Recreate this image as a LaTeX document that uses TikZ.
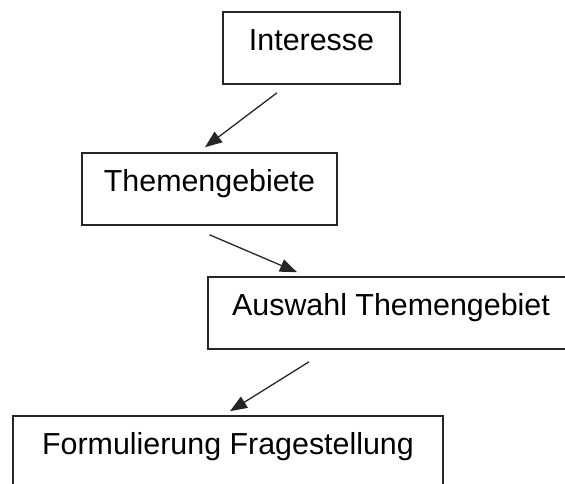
\documentclass[tikz,border=0pt]{standalone}
\usepackage{fontspec}
\setmainfont{Liberation Sans}
\usepackage{tikz}
\usetikzlibrary{arrows.meta}

\begin{document}
\begin{tikzpicture}[
    x=1pt, y=1pt,
    box/.style={draw=black!85, line width=1.6pt, rectangle, inner sep=0pt, anchor=base,
        text height=39pt, text depth=33pt, font=\fontsize{30.4}{36}\selectfont},
    arrow/.style={-{Triangle[length=17pt, width=13pt]}, line width=1.3pt, draw=black!85}
]
\useasboundingbox (0,0) rectangle (565,484);

% Steps
\node[box, minimum width=177pt] (interesse) at (311.5,433) {Interesse};
\node[box, minimum width=255pt] (gebiete) at (209.5,292) {Themengebiete};
\node[box, minimum width=366pt] (auswahl) at (391,168) {Auswahl Themengebiet};
\node[box, minimum width=430pt] (frage) at (228,29) {Formulierung Fragestellung};

% Arrows between steps
\draw[arrow] ([xshift=-34.5pt, yshift=-8pt]interesse.south) -- ([xshift=-4.5pt, yshift=5pt]gebiete.north);
\draw[arrow] ([yshift=-9pt]gebiete.south) -- ([xshift=-94pt, yshift=4pt]auswahl.north);
\draw[arrow] ([xshift=-82pt, yshift=-12pt]auswahl.south) -- ([xshift=2pt, yshift=4pt]frage.north);

\end{tikzpicture}
\end{document}
